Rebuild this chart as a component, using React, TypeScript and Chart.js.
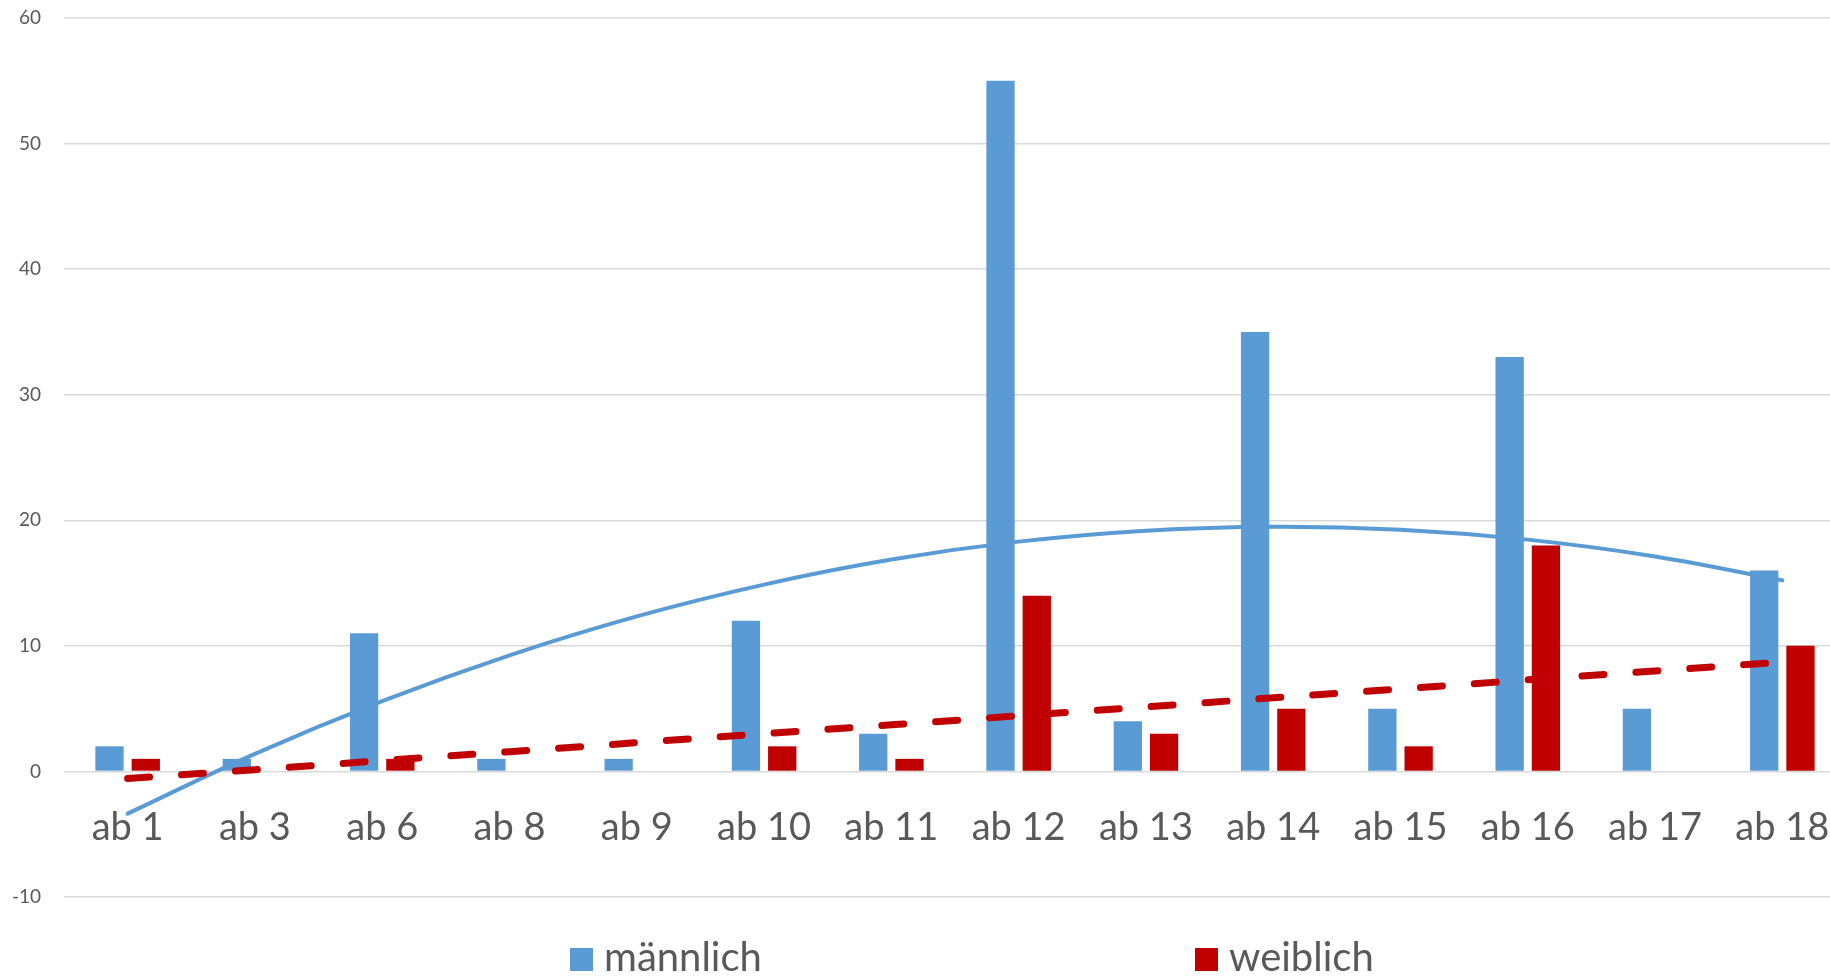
import React, { useEffect, useRef } from "react";
import { Chart, registerables } from "chart.js";

Chart.register(...registerables);

const categories = ["ab 1", "ab 3", "ab 6", "ab 8", "ab 9", "ab 10", "ab 11", "ab 12", "ab 13", "ab 14", "ab 15", "ab 16", "ab 17", "ab 18"];
const maleValues = [2, 1, 11, 1, 1, 12, 3, 55, 4, 35, 5, 33, 5, 16];
const femaleValues = [1, 0, 1, 0, 0, 2, 1, 14, 3, 5, 2, 18, 0, 10];
// trend lines at each category
const maleTrend = [-3.36, 1.4, 5.6, 9.25, 12.35, 14.88, 16.87, 18.3, 19.17, 19.49, 19.25, 18.46, 17.12, 15.22];
const femaleTrend = [-0.57, 0.14, 0.86, 1.57, 2.29, 3.0, 3.71, 4.43, 5.14, 5.86, 6.57, 7.29, 8.0, 8.71];
const yMin = -10;
const yMax = 60;
const yStep = 10;

const BLUE = "#5B9BD5";
const RED = "#C00000";
const TEXT = "#595959";
const FONT = "Lato";

const legendPlugin = {
  id: "customLegend",
  afterDraw(chart: any) {
    const ctx = chart.ctx;
    const items = [
      { ds: chart.data.datasets[0], boxX: 570, textX: 604 },
      { ds: chart.data.datasets[1], boxX: 1195, textX: 1229 },
    ];
    ctx.save();
    ctx.font = `40px ${FONT}`;
    ctx.textBaseline = "alphabetic";
    ctx.textAlign = "left";
    for (const it of items) {
      ctx.fillStyle = it.ds.backgroundColor;
      ctx.fillRect(it.boxX, 948, 23, 23);
      ctx.fillStyle = TEXT;
      ctx.fillText(it.ds.label, it.textX, 971);
    }
    ctx.restore();
  },
};

function zeroPadding(scale: any) {
  scale.paddingTop = 0;
  scale.paddingBottom = 0;
  scale.paddingLeft = 0;
  scale.paddingRight = 0;
}

export default function App() {
  const ref = useRef<HTMLCanvasElement>(null);
  useEffect(() => {
    if (!ref.current) return;
    const chart = new Chart(ref.current, {
      type: "bar",
      data: {
        labels: categories,
        datasets: [
          {
            type: "bar",
            label: "männlich",
            data: maleValues,
            backgroundColor: BLUE,
            borderWidth: 0,
            categoryPercentage: 0.57,
            barPercentage: 0.78,
            order: 3,
          },
          {
            type: "bar",
            label: "weiblich",
            data: femaleValues,
            backgroundColor: RED,
            borderWidth: 0,
            categoryPercentage: 0.57,
            barPercentage: 0.78,
            order: 3,
          },
          {
            type: "line",
            label: "Trend männlich",
            data: maleTrend,
            borderColor: BLUE,
            borderWidth: 4,
            tension: 0.4,
            pointRadius: 0,
            borderCapStyle: "round",
            fill: false,
            order: 2,
          },
          {
            type: "line",
            label: "Trend weiblich",
            data: femaleTrend,
            borderColor: RED,
            borderWidth: 7,
            borderDash: [22, 32],
            borderCapStyle: "round",
            tension: 0,
            pointRadius: 0,
            fill: false,
            order: 1,
          },
        ] as any,
      },
      options: {
        animation: false,
        responsive: false,
        devicePixelRatio: 1,
        events: [],
        layout: { padding: { left: 0, right: 0, top: 18, bottom: 79 } },
        plugins: {
          legend: { display: false },
          tooltip: { enabled: false },
          title: { display: false },
        },
        scales: {
          x: {
            position: { y: 0 } as any,
            offset: true,
            afterFit: zeroPadding,
            grid: { display: false, drawTicks: false },
            border: { display: false },
            ticks: {
              color: TEXT,
              font: { family: FONT, size: 38 },
              padding: 34,
              maxRotation: 0,
              autoSkip: false,
            },
          },
          y: {
            min: yMin,
            max: yMax,
            afterFit(scale: any) {
              scale.width = 64;
              zeroPadding(scale);
            },
            grid: { color: "#D9D9D9", lineWidth: 1.5, drawTicks: false },
            border: { display: false },
            ticks: {
              stepSize: yStep,
              color: TEXT,
              font: { family: FONT, size: 19 },
              padding: 23,
            },
          },
        },
      },
      plugins: [legendPlugin],
    });
    return () => chart.destroy();
  }, []);
  return (
    <div style={{ position: "fixed", left: 0, top: 0, width: 1830, height: 976, overflow: "hidden", background: "#fff" }}>
      <canvas ref={ref} width={1846} height={976} style={{ width: 1846, height: 976, display: "block" }} />
    </div>
  );
}
